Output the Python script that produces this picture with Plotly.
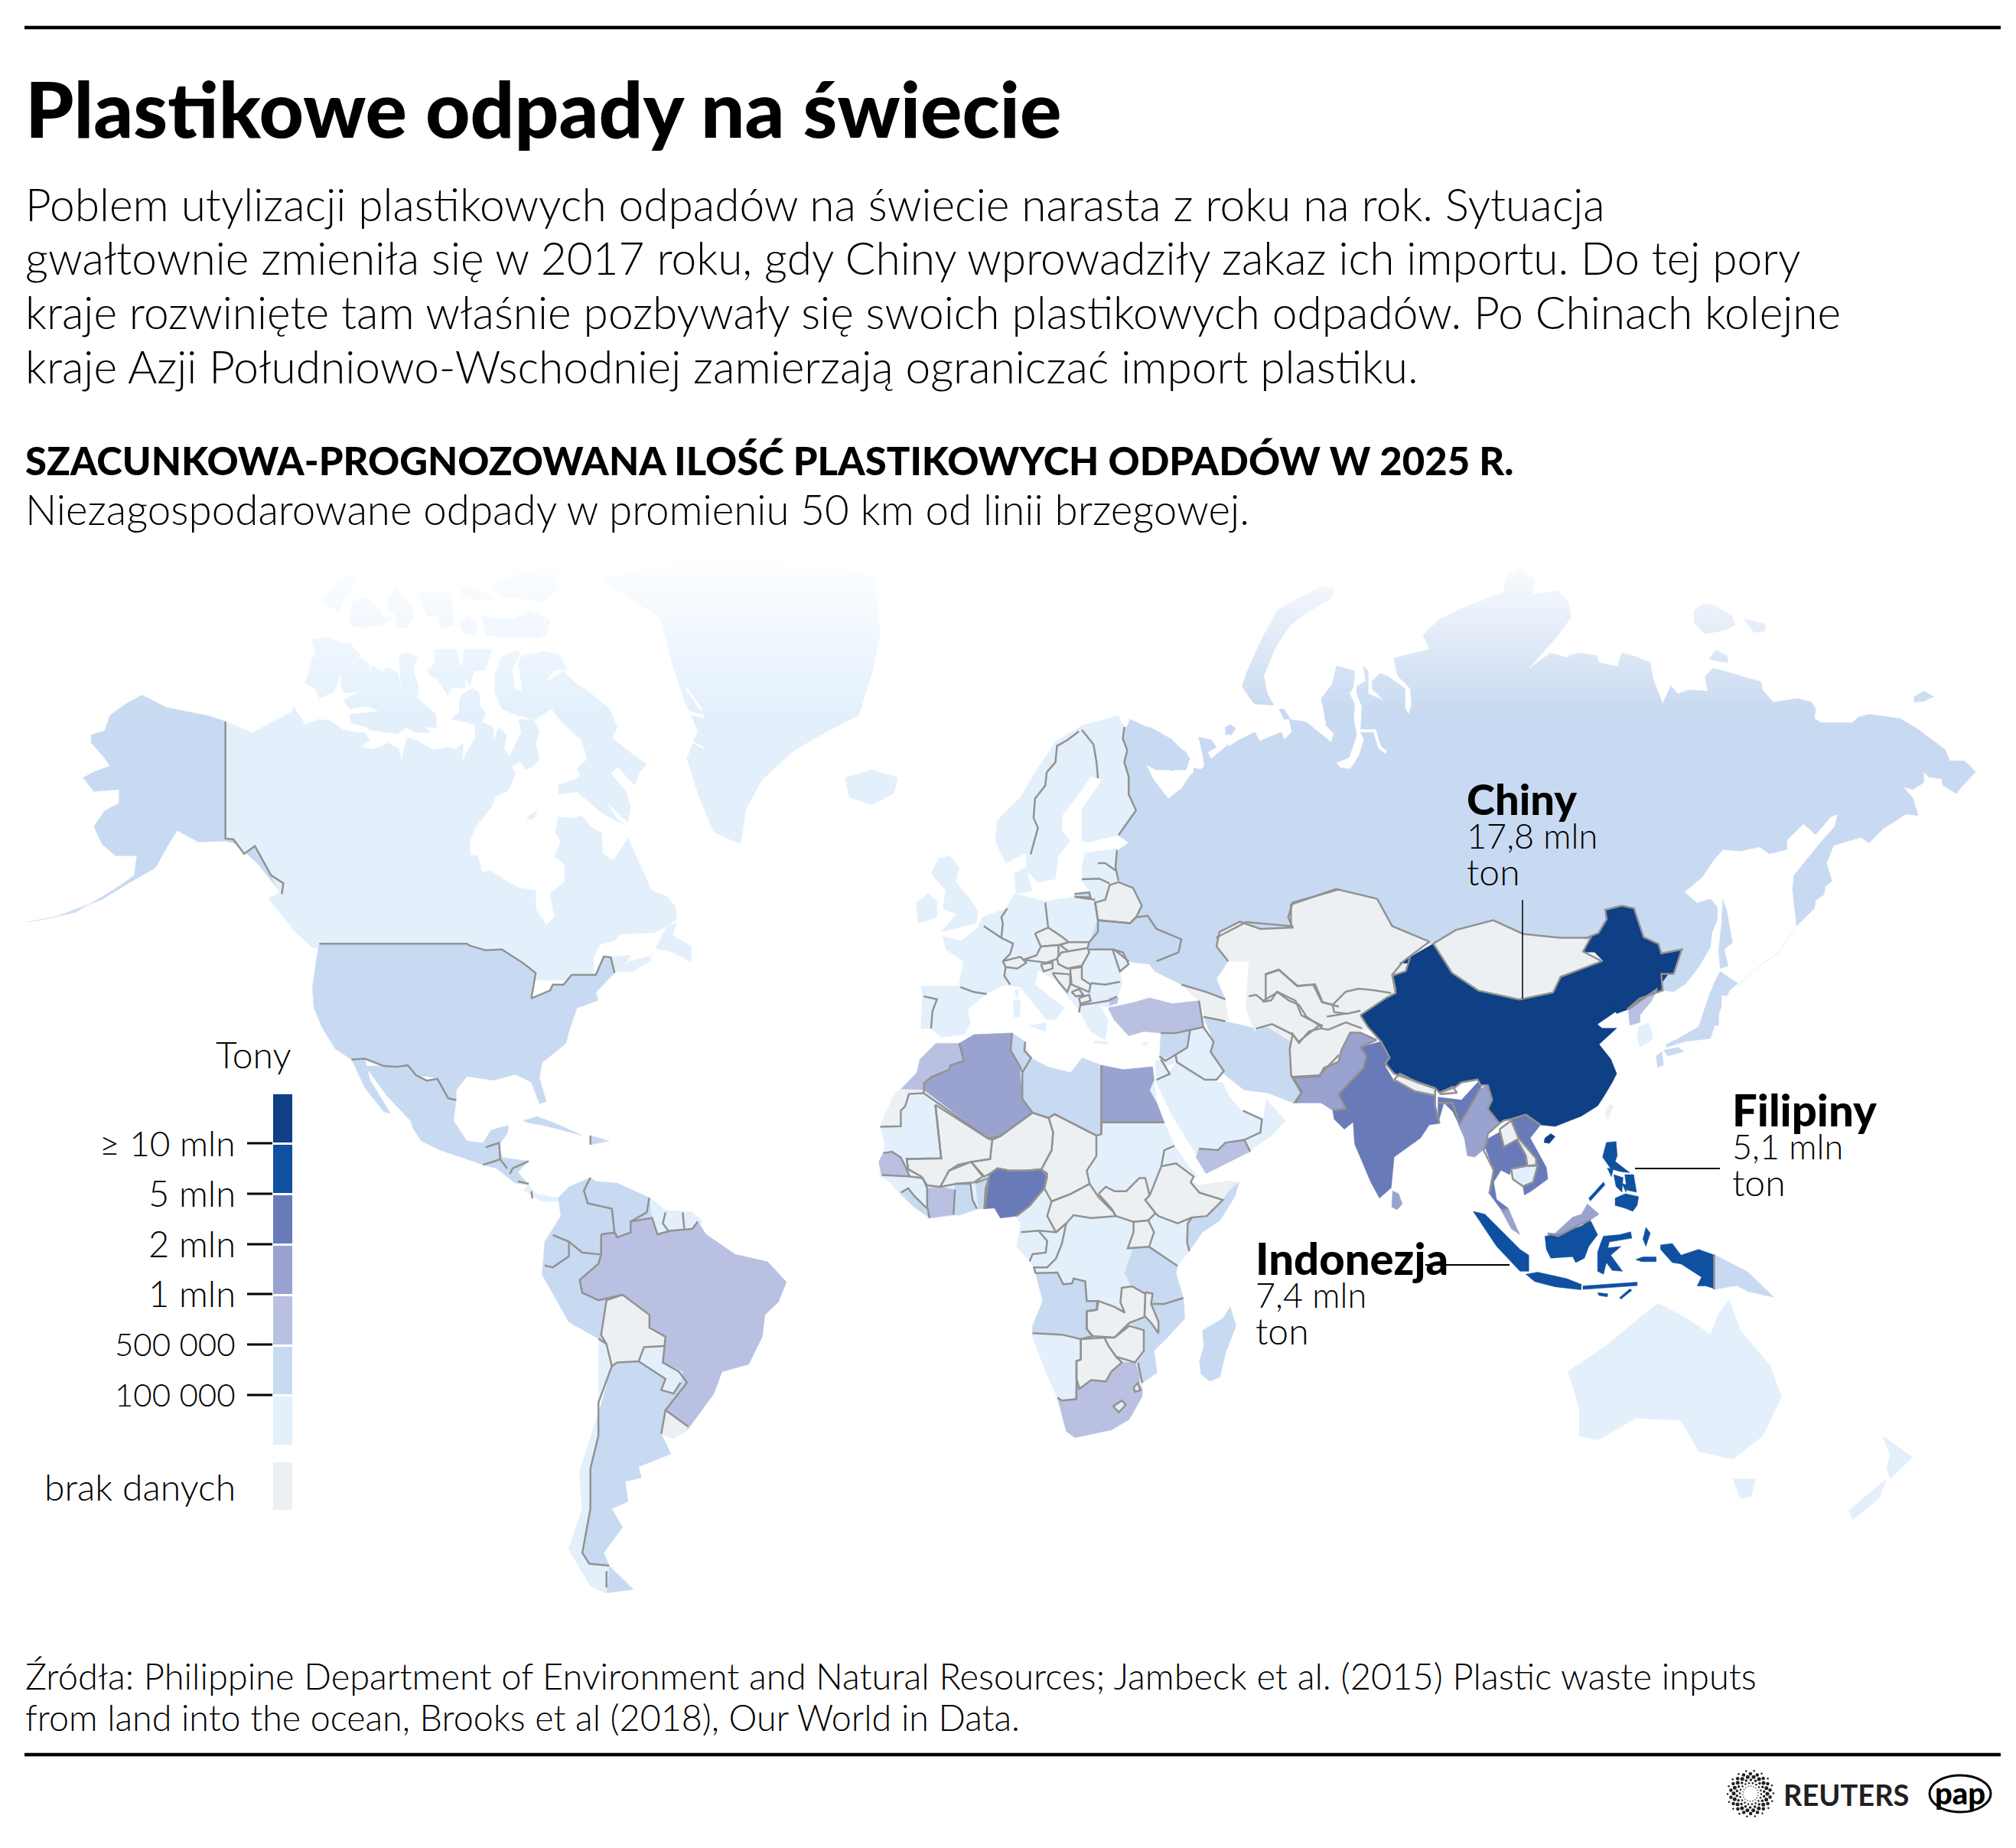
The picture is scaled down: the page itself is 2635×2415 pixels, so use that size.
import numpy as np
import plotly.graph_objects as go

# klasy kolorow (tony)
K1 = '#e3f0fc'
K2 = '#c8daf1'
K3 = '#b9c0e1'
K4 = '#9aa2cf'
K5 = '#687bb8'
K6 = '#0f50a0'
K7 = '#0f3f85'
BRAK = '#ecf0f3'
SZARY = '#929292'

legenda_kolory = [K7, K6, K5, K4, K3, K2, K1]
legenda_opisy = ['≥ 10 mln', '5 mln', '2 mln', '1 mln', '500 000', '100 000']

# kontury; mapy bazowej nie ma offline, wiec wszystko recznie.
# kadry = fragmenty obrazka: (x0, y0, skala x, skala y)
KADRY = {
    'na': (0, 700, 1.4255, 1.96),
    'az': (1100, 700, 1.0215, 1.96),
    'sa': (0, 1350, 1.4255, 2.0907),
    'pd': (1100, 1300, 1.0215, 1.96),
    'eu': (1150, 950, 2.6133, 2.6133),
    'af': (1120, 1350, 2.6133, 2.6133),
    'as': (1650, 1250, 2.6133, 2.6133),
    'ru': (1560, 720, 3, 3),
    'ws': (2050, 780, 2.8, 2.8),
    'kn': (380, 730, 2.904, 2.904),
}

# --- Ameryka Polnocna
alaska = [(420,476),(390,462),(310,440),(265,408),(235,430),(205,460),(195,500),(170,510),(170,530),(195,570),(205,590),(175,605),(155,620),(175,655),(222,650),(222,685),(195,705),(175,745),(190,790),(215,820),(255,820),(250,870),(225,895),(190,925),(140,965),(90,980),(50,990),(100,978),(190,932),(240,890),(290,850),(310,800),(330,755),(370,785),(420,782),(440,790),(480,840),(525,918),(528,890),(505,870),(475,795),(455,815),(435,778),(420,776)]
kanada_zach = [(420,476),(470,505),(545,450),(570,485),(600,600),(600,1045),(595,1045),(580,1050),(545,1005),(500,930),(520,915),(505,870),(475,795),(455,815),(435,778),(420,776)]
kanada = [(0,1400),(0,600),(10,560),(35,600),(55,630),(80,620),(105,610),(150,615),(200,650),(250,660),(280,660),(300,690),(265,715),(310,725),(370,700),(410,720),(420,770),(440,680),(480,690),(540,725),(600,715),(625,725),(655,700),(650,770),(670,730),(700,680),(700,630),(660,620),(610,610),(640,580),(640,530),(660,510),(690,490),(715,510),(720,560),(740,590),(725,620),(770,640),(770,690),(790,640),(820,670),(810,720),(830,750),(860,690),(875,660),(865,610),(920,610),(945,660),(930,700),(945,760),(920,790),(890,800),(870,770),(840,790),(855,815),(825,880),(780,900),(760,945),(700,1020),(680,1070),(680,1125),(710,1125),(725,1190),(760,1185),(820,1225),(870,1250),(930,1260),(930,1330),(970,1390),(1000,1360),(985,1270),(1040,1225),(1040,1160),(1000,1130),(1025,1075),(1005,1040),(1015,980),(1080,985),(1105,975),(1140,1020),(1180,1040),(1185,1120),(1225,1145),(1280,1060),(1320,1150),(1350,1220),(1370,1260),(1425,1280),(1460,1320),(1465,1370),(1420,1400),(1380,1420),(1250,1425),(1230,1450),(1175,1465),(1150,1510),(1150,1600),(110,1600),(110,1480),(80,1475)]
brunszwik = [(1215,1510),(1290,1505),(1270,1540),(1350,1520),(1380,1500),(1300,1568),(1225,1568)]
nowa_szkocja = [(1280,1530),(1360,1510),(1370,1525),(1290,1568)]
nowa_fundlandia = [(1385,1480),(1425,1400),(1465,1380),(1450,1430),(1520,1470),(1520,1530),(1440,1490)]
baffin = [(775,510),(775,440),(800,370),(860,348),(870,360),(840,420),(850,490),(880,510),(865,400),(875,370),(945,355),(955,350),(1020,365),(1050,420),(1000,425),(965,470),(1035,428),(1080,470),(1150,520),(1210,570),(1240,640),(1220,680),(1300,745),(1350,780),(1325,810),(1305,860),(1240,790),(1215,815),(1270,880),(1290,940),(1280,1000),(1245,970),(1195,920),(1240,990),(1275,1015),(1180,965),(1140,930),(1085,885),(1015,895),(1015,860),(1075,840),(1100,825),(1085,800),(1125,760),(1105,690),(1070,660),(1020,610),(990,570),(930,610),(860,595),(800,570),(785,530)]
wiktoria = [(205,535),(260,505),(205,510),(190,480),(190,430),(265,375),(295,395),(300,430),(310,405),(350,430),(345,450),(360,410),(405,430),(420,490),(410,370),(435,355),(480,370),(465,420),(485,490),(480,530),(550,590),(555,640),(510,640),(530,660),(470,660),(440,640),(405,665),(300,650),(290,640),(230,625),(225,590),(335,580),(295,560),(225,570),(205,545)]
banks = [(55,475),(75,400),(95,350),(75,310),(140,295),(190,320),(225,320),(265,370),(190,430),(165,505),(110,530),(90,490)]
ksiaze_walii = [(520,420),(545,400),(545,345),(630,345),(640,400),(665,430),(660,490),(610,490),(595,520),(560,460),(525,440)]
somerset = [(665,345),(765,345),(735,425),(695,425),(680,485),(650,420),(660,340)]
devon = [(725,220),(790,225),(850,230),(905,195),(985,235),(970,290),(940,300),(800,300),(740,290)]
ellesmere = [(770,110),(830,60),(940,45),(1010,40),(1020,110),(960,165),(860,150),(790,145)]
cornwallis = [(640,250),(675,215),(705,240),(705,290),(660,285)]
bathurst = [(630,100),(700,110),(780,150),(710,160),(660,150)]
melville = [(220,250),(235,165),(290,145),(340,195),(345,220),(395,220),(350,250),(290,260),(245,260)]
ksiaze_patryka = [(115,165),(185,70),(260,60),(215,140),(180,200)]
lougheed = [(365,160),(400,110),(460,185),(465,220),(440,265),(395,260),(400,215),(370,190)]
axel = [(480,130),(610,130),(620,250),(565,265),(560,220),(520,220)]
southampton = [(895,985),(935,955),(925,985),(900,990)]
grenlandia = [(1115,110),(1185,170),(1230,210),(1255,340),(1275,420),(1300,500),(1280,570),(1300,660),(1330,760),(1380,790),(1390,700),(1420,625),(1480,550),(1530,510),(1600,460),(1625,350),(1640,250),(1630,100),(1500,75),(1300,60)]
usa = [(595,1045),(870,1045),(875,1050),(905,1062),(935,1060),(975,1095),(998,1120),(990,1185),(1025,1165),(1030,1150),(1050,1150),(1065,1125),(1110,1125),(1125,1078),(1138,1080),(1145,1120),(1110,1170),(1115,1190),(1075,1210),(1060,1270),(1055,1300),(1010,1350),(1005,1390),(1018,1450),(1005,1455),(990,1400),(960,1380),(920,1395),(870,1385),(850,1420),(850,1445),(830,1437),(815,1390),(795,1385),(775,1385),(755,1355),(715,1360),(680,1340),(655,1342),(625,1315),(600,1260),(585,1210),(582,1160),(590,1080)]
gr_alaska = [(420,476),(420,776),(435,778),(455,815),(475,795),(505,870),(528,890),(525,918)]

# --- Ameryka Srodkowa i Poludniowa
meksyk = [(680,90),(715,90),(740,92),(760,88),(775,115),(795,130),(815,125),(835,178),(850,183),(845,240),(870,295),(900,300),(915,265),(948,252),(945,275),(930,305),(905,312),(900,360),(860,340),(820,320),(785,295),(770,262),(765,240),(720,170)]
baja = [(655,72),(680,72),(690,130),(728,220),(715,215),(680,150)]
gr_meksyk = [(655,72),(680,70),(715,90),(740,92),(760,88),(775,115),(795,130),(815,125),(835,178),(850,183)]
am_srodkowa = [(905,312),(930,300),(935,340),(985,350),(965,380),(985,415),(960,410),(925,370),(900,360)]
panama = [(985,415),(1000,440),(1040,450),(1045,460),(1010,460),(975,430)]
kuba = [(975,240),(1000,228),(1040,250),(1085,280),(1060,270),(1020,255),(985,245)]
haiti = [(1100,280),(1135,295),(1100,305)]
am_pd = [(1040,450),(1060,420),(1100,395),(1110,405),(1150,410),(1210,450),(1240,485),(1290,490),(1315,550),(1370,605),(1430,625),(1465,680),(1450,735),(1425,770),(1420,830),(1395,905),(1345,925),(1330,985),(1280,1085),(1255,1108),(1232,1095),(1250,1150),(1190,1185),(1195,1215),(1165,1225),(1170,1280),(1140,1300),(1160,1350),(1125,1420),(1135,1455),(1180,1520),(1130,1530),(1100,1510),(1060,1410),(1085,1300),(1080,1200),(1115,1040),(1140,910),(1115,835),(1060,790),(1010,660),(1015,570),(1045,500)]
gujany = [(1210,450),(1240,485),(1290,490),(1310,515),(1295,535),(1280,540),(1225,550),(1215,505)]
brazylia = [(1120,550),(1145,545),(1150,558),(1175,545),(1175,515),(1215,505),(1225,550),(1250,540),(1290,535),(1300,515),(1315,550),(1370,605),(1430,625),(1465,680),(1450,735),(1425,770),(1420,830),(1395,905),(1345,925),(1330,985),(1280,1085),(1240,1030),(1280,955),(1265,925),(1235,900),(1240,830),(1210,805),(1210,770),(1160,715),(1115,730),(1085,710),(1080,675),(1115,630),(1120,605)]
boliwia = [(1160,715),(1210,770),(1212,805),(1240,830),(1238,855),(1200,860),(1190,897),(1150,900),(1140,910),(1130,850),(1120,825),(1130,730)]
paragwaj = [(1200,858),(1238,855),(1235,900),(1272,925),(1268,955),(1255,985),(1232,975),(1240,945),(1190,897)]
urugwaj = [(1240,1030),(1282,1075),(1278,1090),(1255,1108),(1232,1095)]
chile = [(1115,835),(1130,850),(1140,910),(1130,950),(1115,1010),(1115,1100),(1100,1190),(1100,1300),(1085,1420),(1098,1450),(1135,1455),(1130,1530),(1100,1510),(1060,1410),(1085,1300),(1080,1200),(1115,1040)]
gr_am_pd = [
    [(1100,395),(1088,430),(1095,465),(1140,480),(1145,545),(1150,558)],
    [(1175,515),(1205,490),(1210,450)],
    [(1240,490),(1235,520),(1245,540)],
    [(1272,490),(1275,535)],
    [(1030,552),(1060,570),(1085,600),(1120,605)],
    [(1060,570),(1060,610),(1030,640),(1015,635)],
    [(1115,835),(1130,850),(1140,910),(1130,950),(1115,1010),(1115,1100),(1100,1190),(1100,1300),(1085,1420),(1098,1450),(1135,1455)],
    [(1130,1470),(1130,1515)],
    [(905,312),(930,300),(932,345)],
    [(900,360),(932,345),(945,370)],
    [(985,350),(955,370),(950,385)],
    [(965,405),(985,412)],
    [(990,432),(992,452)],
    [(1100,280),(1100,305)],
    [(1120,550),(1145,545),(1150,558),(1175,545),(1175,515),(1215,505),(1225,550),(1250,540),(1290,535),(1300,515)],
    [(1120,550),(1120,605),(1115,630),(1080,675),(1085,710),(1115,730),(1160,715)],
    [(1160,715),(1210,770),(1210,805),(1240,830),(1235,900),(1265,925),(1280,955),(1240,1030),(1282,1075)],
    [(1160,715),(1130,730),(1120,825),(1130,850)],
    [(1238,855),(1200,858),(1190,897),(1150,900),(1140,910)],
    [(1190,897),(1240,945),(1232,975),(1255,985),(1268,955)],
    [(1240,1030),(1232,1095)],
]

# --- Afryka
afryka = [(265,40),(350,35),(400,5),(530,0),(575,30),(590,85),(650,115),(730,135),(770,85),(835,110),(910,125),(1010,115),(1015,160),(1025,240),(1050,305),(1085,385),(1130,450),(1165,490),(1140,505),(1170,520),(1270,505),(1305,510),(1290,560),(1240,640),(1180,680),(1135,745),(1100,790),(1090,820),(1115,905),(1120,975),(1060,1040),(1015,1085),(1025,1160),(975,1195),(975,1240),(930,1320),(870,1355),(745,1382),(715,1360),(685,1245),(650,1170),(600,1040),(600,1000),(635,915),(610,810),(590,780),(545,730),(560,650),(540,625),(490,632),(470,598),(420,600),(350,622),(250,632),(190,590),(150,555),(115,510),(80,490),(75,440),(90,405),(95,380),(80,320),(100,270),(130,205),(150,190),(210,135)]
maroko = [(350,35),(365,95),(320,110),(315,125),(255,150),(230,170),(228,195),(150,192),(205,135),(215,90),(270,35)]
sahara_zach = [(150,192),(228,195),(228,205),(178,208),(165,250),(150,265),(150,318),(80,320),(100,270),(130,205)]
algieria = [(350,35),(400,5),(530,0),(525,60),(555,110),(565,225),(600,272),(490,352),(448,360),(230,195),(230,170),(255,150),(315,125),(320,110),(365,95)]
tunezja = [(530,0),(575,30),(572,60),(595,85),(565,135),(555,110),(525,60)]
libia = [(595,85),(650,115),(730,135),(770,85),(835,110),(835,345),(818,345),(675,277),(655,290),(600,272),(565,225),(565,135)]
egipt = [(835,110),(910,125),(1010,115),(1015,160),(1000,195),(975,150),(1025,240),(1050,305),(838,305)]
czad = [(675,277),(818,350),(818,420),(785,470),(795,515),(730,550),(665,575),(640,530),(650,480),(630,465),(665,400),(670,340),(655,290)]
niger = [(600,272),(655,290),(670,340),(665,400),(630,465),(580,470),(520,470),(480,462),(455,480),(435,490),(390,440),(455,430),(462,365),(490,352)]
mali = [(268,245),(448,360),(462,365),(455,430),(390,440),(345,450),(315,470),(285,525),(240,520),(220,490),(175,465),(170,430),(288,428)]
senegal = [(90,410),(120,405),(150,425),(170,465),(180,490),(85,485),(75,440)]
burkina = [(285,525),(315,470),(390,440),(430,490),(400,510),(340,515)]
wybrzeze_ks = [(240,530),(285,525),(335,535),(330,620),(250,632),(240,590)]
ghana = [(335,515),(388,515),(395,570),(410,600),(350,622),(330,620)]
benin = [(405,512),(450,495),(437,600),(415,600)]
liberia = [(150,545),(175,530),(195,555),(240,610),(248,632),(190,590)]
nigeria = [(455,480),(480,462),(520,470),(580,470),(630,465),(650,490),(640,530),(590,590),(545,625),(490,632),(470,598),(435,600),(440,530)]
rsa_srodkowa = [(665,575),(730,550),(795,515),(825,560),(875,610),(885,625),(800,632),(740,622),(715,650),(680,680),(650,625)]
sudan_pd = [(825,550),(850,525),(880,540),(920,540),(965,495),(985,495),(1000,555),(985,570),(1020,615),(995,640),(945,645),(885,625),(870,600)]
etiopia = [(1000,555),(1040,455),(1090,445),(1150,490),(1140,510),(1170,545),(1250,570),(1195,625),(1145,630),(1095,650),(1030,625),(1020,615),(985,570)]
somaliland = [(1140,510),(1170,520),(1270,505),(1270,540),(1250,570),(1170,545)]
somalia = [(1250,570),(1270,540),(1305,510),(1290,560),(1240,640),(1180,680),(1135,745),(1128,715),(1130,650),(1145,630),(1195,625)]
uganda = [(945,645),(995,640),(1015,680),(998,730),(925,735),(945,680)]
tanzania = [(945,730),(998,730),(1095,795),(1090,820),(1115,905),(1050,925),(1010,925),(985,885),(935,860),(915,820)]
mozambik = [(1115,905),(1120,975),(1060,1040),(1015,1085),(1025,1160),(975,1195),(960,1125),(980,1085),(975,1015),(930,990),(980,970),(1030,1025),(1030,985),(1005,925),(1050,925)]
malawi = [(985,885),(1010,890),(1005,925),(1030,985),(1030,1025),(1005,990),(982,965)]
zambia = [(785,950),(820,945),(825,915),(880,935),(915,955),(900,920),(905,870),(940,865),(985,890),(982,970),(930,990),(880,1040),(805,1035),(785,1010)]
zimbabwe = [(845,1040),(880,1040),(930,1000),(980,1015),(980,1085),(950,1125),(885,1105),(860,1070)]
botswana = [(765,1045),(845,1040),(860,1070),(885,1105),(905,1125),(870,1155),(850,1190),(800,1185),(760,1215),(750,1180),(750,1120),(765,1115)]
angola = [(610,820),(685,818),(705,858),(735,855),(740,838),(780,848),(785,915),(820,915),(820,945),(785,950),(785,1010),(805,1035),(765,1045),(700,1030),(600,1025),(600,1000),(635,915)]
rpa = [(750,1180),(760,1215),(800,1185),(850,1190),(870,1155),(905,1125),(950,1125),(965,1165),(965,1200),(975,1215),(975,1240),(930,1320),(870,1355),(745,1382),(715,1360),(685,1245),(700,1255),(745,1250)]
lesotho = [(875,1275),(905,1255),(918,1270),(895,1295)]
suazi = [(945,1210),(960,1195),(968,1220),(950,1225)]
madagaskar = [(1275,935),(1295,1000),(1260,1090),(1240,1175),(1205,1190),(1175,1165),(1170,1120),(1185,1070),(1180,1015),(1250,975)]
gr_afryka = [
    [(365,95),(320,110),(315,125),(255,150),(230,170),(228,205)],
    [(350,35),(365,95)],
    [(228,205),(178,208),(165,250),(150,265),(150,318),(80,320)],
    [(228,205),(448,360),(490,352),(600,272),(655,290),(675,277),(818,350),(835,345),(835,110)],
    [(530,0),(525,60),(555,110),(565,135),(565,225),(600,272)],
    [(565,135),(595,85),(572,60),(575,30)],
    [(838,305),(1050,305)],
    [(835,305),(835,345)],
    [(1085,385),(1050,400),(1040,455)],
    [(90,410),(120,405),(150,425),(170,465),(180,490),(85,485)],
    [(175,465),(170,430),(288,428),(268,245)],
    [(180,490),(225,495),(240,530),(240,590),(248,632)],
    [(150,545),(175,530),(195,555),(240,600)],
    [(335,535),(330,620)],
    [(335,515),(388,515),(395,570),(410,600)],
    [(405,512),(450,495),(437,600)],
    [(455,480),(480,462),(520,470),(580,470),(630,465),(650,490),(640,530),(590,590),(545,625)],
    [(455,480),(440,530),(435,600)],
    [(560,680),(620,675),(680,680)],
    [(620,675),(650,710),(645,750),(600,755),(590,780)],
    [(680,680),(715,650),(700,720),(680,770),(650,800),(605,800),(610,820)],
    [(610,820),(685,818),(705,858),(735,855),(740,838),(780,848),(785,915),(820,915),(820,945),(785,950),(785,1010),(805,1035),(765,1045),(700,1030),(600,1025)],
    [(1145,630),(1130,650),(1128,715),(1135,745)],
    [(998,730),(1095,795)],
    [(1010,925),(1050,925),(1115,905)],
    [(975,1195),(960,1125)],
    [(765,1045),(765,1115),(750,1120),(750,1250),(700,1255),(685,1245)],
]

# --- Europa i Bliski Wschod
skandynawia = [(690,-5),(815,-39),(835,0),(830,40),(845,80),(835,120),(850,170),(850,230),(875,285),(815,370),(750,385),(710,395),(690,390),(690,280),(760,180),(720,170),(690,215),(625,300),(620,350),(650,390),(610,440),(600,520),(540,530),(500,490),(500,430),(430,465),(395,390),(400,320),(480,240),(540,140),(600,50)]
europa = [(430,620),(460,570),(565,595),(660,580),(735,590),(745,660),(715,735),(800,760),(850,800),(820,840),(830,875),(810,925),(785,925),(800,965),(750,950),(780,1000),(770,1070),(720,1040),(675,960),(640,920),(610,870),(540,830),(530,880),(630,960),(600,1000),(570,1000),(480,890),(430,880),(365,910),(300,965),(310,1010),(290,1050),(210,1060),(175,1030),(140,1030),(145,915),(140,885),(270,885),(285,800),(225,760),(215,715),(280,730),(335,685),(350,650)]
dania = [(460,500),(500,480),(520,560),(465,570)]
baltyckie = [(700,430),(810,415),(805,480),(815,525),(785,540),(770,590),(735,595),(715,560),(690,525),(690,480)]
krolewiec = [(665,570),(715,565),(720,582),(665,580)]
brytania = [(240,440),(270,480),(260,530),(310,590),(335,630),(330,670),(210,700),(260,640),(215,620),(225,560),(175,500),(200,450)]
irlandia = [(125,600),(165,570),(195,595),(195,650),(130,670)]
islandia = [(5,620),(40,600),(75,620),(70,660),(40,690),(10,670)]
sycylia = [(510,1020),(570,1010),(565,1040)]
sardynia = [(455,935),(480,935),(478,990),(458,990)]
korsyka = [(460,900),(475,895),(470,930)]
kreta = [(730,1072),(780,1076),(778,1084),(732,1080)]
cypr = [(895,1080),(920,1075),(905,1090)]
bialorus = [(735,600),(770,590),(785,540),(815,530),(865,550),(895,610),(875,650),(855,670),(745,660),(740,630)]
ukraina = [(745,660),(855,670),(875,650),(915,645),(945,690),(1030,725),(1020,770),(945,800),(1000,800),(940,835),(920,810),(870,805),(850,800),(800,760),(715,760),(715,735)]
czechy = [(530,705),(575,685),(620,715),(645,735),(610,745),(550,750)]
slowacja = [(615,745),(645,735),(715,735),(710,755),(650,770)]
austria = [(490,795),(535,780),(550,750),(610,745),(610,790),(570,805),(530,800)]
wegry = [(605,790),(620,770),(710,755),(715,770),(690,815),(640,825),(610,810)]
slowenia = [(550,810),(590,805),(590,825),(560,835)]
bosnia = [(590,840),(650,845),(650,880),(640,905),(610,870)]
serbia = [(650,825),(690,820),(690,860),(720,880),(715,905),(680,890),(655,880)]
czarnogora = [(655,905),(680,895),(695,915),(670,920)]
macedonia = [(680,925),(715,915),(720,935),(685,945)]
moldawia = [(795,760),(830,770),(850,810),(820,835)]
szwajcaria = [(420,800),(480,785),(500,805),(470,825),(430,820)]
turcja = [(780,960),(870,940),(920,925),(1000,945),(1090,935),(1105,1025),(1010,1045),(960,1045),(900,1040),(850,1055),(800,1000)]
tracja = [(785,925),(815,925),(810,945),(785,950)]
kaukaz = [(1030,880),(1110,905),(1180,930),(1190,1000),(1110,990),(1095,940)]
arabia = [(940,1205),(990,1175),(1015,1145),(1110,1205),(1170,1215),(1195,1265),(1235,1310),(1310,1340),(1320,1270),(1385,1345),(1340,1395),(1260,1450),(1110,1525),(1080,1460),(1000,1330)]
jemen = [(1090,1440),(1155,1445),(1180,1420),(1245,1410),(1265,1450),(1115,1525),(1080,1470)]
syria = [(960,1045),(1060,1035),(1050,1095),(975,1140),(955,1125)]
irak = [(1060,1035),(1110,1030),(1140,1075),(1130,1110),(1175,1175),(1150,1205),(1110,1205),(1015,1145),(1010,1120),(1050,1095)]
iran = [(1105,990),(1180,1005),(1285,1030),(1340,1015),(1410,1050),(1400,1100),(1405,1190),(1440,1250),(1415,1285),(1325,1250),(1245,1240),(1180,1190),(1130,1110),(1140,1075)]
jordania = [(960,1135),(1010,1120),(1015,1145),(975,1160),(990,1185),(945,1205),(940,1140)]
kazachstan_zach = [(1150,750),(1160,700),(1230,665),(1300,690),(1410,685),(1395,650),(1410,600),(1568,555),(1568,1190),(1410,1190),(1400,1100),(1410,1050),(1340,1015),(1285,1030),(1280,1040),(1250,960),(1260,800),(1190,800)]
rosja_eur = [(835,0),(830,40),(845,80),(835,120),(850,170),(850,230),(875,285),(815,370),(850,395),(815,420),(805,480),(815,525),(865,550),(895,610),(875,650),(915,645),(945,690),(1030,725),(1020,770),(945,800),(1000,800),(940,835),(1030,880),(1115,905),(1180,930),(1150,860),(1190,800),(1150,750),(1160,700),(1230,665),(1300,690),(1410,685),(1395,650),(1410,600),(1568,555),(1568,200),(1200,200),(1190,60),(1130,110),(1090,35),(1110,135),(1060,165),(1030,210),(985,245),(935,180),(900,110),(1000,150),(1040,130),(1050,90),(960,20),(920,0)]
gr_europa = [
    [(680,15),(640,45),(605,65),(600,120),(570,155),(565,200),(530,245),(525,310),(540,345),(525,400),(515,435)],
    [(690,10),(730,60),(740,120),(745,175)],
    [(835,0),(830,40),(845,80),(835,120),(850,170),(850,230),(875,285),(815,370)],
    [(810,420),(805,480),(815,525)],
    [(745,465),(770,465),(805,490)],
    [(690,520),(750,518),(785,535)],
    [(665,570),(715,565),(720,582),(665,580),(735,590)],
    [(565,600),(575,685)],
    [(735,595),(745,660),(745,700),(715,735)],
    [(745,660),(855,670),(875,650),(915,645),(945,690),(1030,725),(1020,770),(945,800)],
    [(715,760),(800,760),(850,800)],
    [(355,680),(415,720),(420,670),(415,650),(435,620)],
    [(415,720),(455,740),(445,775),(420,800)],
    [(275,888),(320,905),(365,912)],
    [(150,920),(195,930),(180,970),(175,1030)],
    [(430,820),(425,850),(445,880)],
    [(720,875),(770,880),(820,870)],
    [(680,975),(685,950),(720,945),(780,935),(810,920)],
    [(1030,880),(1115,905),(1180,930)],
    [(1090,935),(1105,1025),(1010,1045),(960,1045)],
    [(1060,1035),(1050,1095),(975,1140),(955,1125)],
    [(1105,1025),(1140,1075),(1130,1110),(1175,1175),(1150,1205),(1110,1205),(1015,1145),(1010,1120)],
    [(960,1135),(975,1160),(990,1185),(945,1205)],
    [(1240,1310),(1305,1340),(1300,1385),(1245,1410),(1180,1420),(1155,1445),(1090,1440)],
    [(1245,1410),(1265,1450)],
    [(1105,990),(1180,1005)],
    [(1150,750),(1160,700),(1230,665),(1300,690),(1410,685),(1395,650),(1410,600),(1568,555)],
    [(1190,800),(1150,750)],
    [(1318,935),(1318,845),(1365,830),(1425,885),(1480,880),(1510,940),(1568,955)],
    [(1260,920),(1285,915),(1310,935),(1360,905),(1420,935),(1440,985),(1510,1020),(1505,1030)],
    [(1285,1030),(1340,1015),(1410,1050),(1400,1100),(1405,1190),(1440,1250),(1415,1285)],
    [(1410,1050),(1430,1075),(1500,1020)],
    [(1405,1195),(1500,1190),(1568,1120)],
]

# --- Rosja azjatycka, Chiny, Azja Pd.
rosja_srodek = [(0,850),(40,860),(45,800),(20,730),(70,740),(90,770),(55,790),(75,825),(110,810),(115,780),(180,740),(240,710),(260,745),(345,710),(355,740),(385,710),(375,660),(440,670),(540,750),(550,715),(515,680),(505,610),(500,580),(545,520),(560,450),(632,470),(628,530),(612,560),(632,600),(628,660),(640,720),(610,810),(560,830),(575,850),(615,855),(650,800),(668,740),(655,710),(660,610),(640,560),(640,530),(675,510),(665,450),(685,470),(685,560),(745,585),(700,540),(700,510),(730,480),(760,490),(830,540),(830,620),(845,640),(855,600),(850,540),(800,490),(785,420),(925,385),(900,330),(960,270),(1050,225),(1170,180),(1215,160),(1225,100),(1280,65),(1340,110),(1330,170),(1430,155),(1470,200),(1480,260),(1430,330),(1310,465),(1400,400),(1470,420),(1500,410),(1500,1540),(0,1540)]
rosja_wsch = [(0,215),(40,205),(105,215),(110,240),(180,255),(195,205),(250,220),(300,240),(310,300),(345,390),(375,325),(400,355),(440,340),(510,345),(500,290),(530,260),(650,295),(705,310),(710,340),(750,385),(840,372),(890,385),(905,410),(900,445),(925,460),(1040,460),(1060,440),(1100,430),(1215,445),(1280,485),(1380,560),(1395,600),(1450,600),(1490,640),(1435,700),(1420,720),(1370,690),(1365,665),(1320,660),(1300,640),(1300,680),(1260,705),(1225,695),(1260,735),(1280,800),(1235,795),(1150,850),(1100,900),(1070,880),(1020,895),(970,910),(945,975),(965,1040),(940,1060),(935,1090),(905,1110),(900,1140),(870,1170),(835,1205),(820,1070),(825,1020),(865,970),(930,890),(975,840),(985,795),(960,805),(905,870),(860,830),(800,890),(800,925),(735,940),(700,915),(630,930),(565,925),(530,965),(490,1025),(425,1080),(470,1120),(520,1105),(545,1135),(545,1180),(525,1230),(520,1280),(480,1350),(430,1415),(385,1445),(345,1440),(340,1380),(385,1380),(415,1290),(340,1305),(330,1270),(275,1245),(240,1140),(195,1130),(135,1145),(140,1180),(110,1230),(60,1250),(0,1240)]
nowa_ziemia = [(190,530),(215,460),(270,340),(330,230),(400,190),(500,140),(550,145),(540,185),(440,245),(380,290),(320,380),(275,490),(290,560),(315,605),(240,600),(215,570)]
wajgacz = [(335,620),(355,620),(380,660),(355,660)]
kolgujew = [(125,690),(145,680),(165,695),(150,720),(125,720)]
kola = [(375,520),(385,470),(440,520),(465,570),(460,600),(420,600),(390,570)]
sachalin = [(565,1105),(580,1150),(600,1265),(570,1290),(585,1350),(555,1360),(550,1290),(560,1200)]
nowosyberyjskie = [(460,50),(490,25),(530,30),(600,70),(610,105),(560,125),(500,135),(460,95)]
nowosyberyjskie_2 = [(640,80),(720,100),(720,125),(680,130)]
lachowskie = [(515,225),(540,195),(580,215),(585,240),(545,235)]
wrangla = [(1265,365),(1300,345),(1338,365),(1300,382),(1265,385)]
hokkaido = [(555,1370),(620,1415),(590,1440),(580,1460),(520,1450),(530,1420)]
honsiu_pn = [(520,1480),(550,1480),(550,1568),(490,1568)]
kazachstan_wsch = [(600,945),(660,905),(715,930),(735,1000),(785,1040),(750,1090),(745,1095),(600,1095)]
mongolia = [(790,1045),(820,1010),(870,985),(910,1020),(960,1030),(1000,1030),(990,1065),(1015,1090),(960,1130),(950,1170),(905,1188),(850,1165),(815,1120)]
chiny_pn_zach = [(790,1045),(815,1095),(745,1095)]
chiny_pn_wsch = [(45,1300),(60,1250),(110,1230),(140,1180),(135,1145),(195,1130),(240,1140),(275,1245),(330,1270),(340,1305),(415,1290),(385,1380),(340,1380),(345,1440),(260,1470),(215,1510),(170,1520),(100,1568),(0,1568),(0,1390),(60,1350),(130,1335),(95,1300)]
gr_kazachstan = [(500,1030),(540,990),(600,1000),(600,945),(660,905),(715,930),(735,1000),(785,1040)]
gr_kazachstan_chiny = [(785,1040),(750,1090),(735,1125),(740,1165)]
gr_chiny_pn = [(60,1250),(110,1230),(140,1180),(135,1145),(195,1130),(240,1140),(275,1245),(330,1270),(340,1305),(415,1290),(385,1380),(340,1380),(345,1440),(260,1470),(215,1510)]
azja_srodkowa = [(0,0),(500,0),(490,50),(445,65),(455,125),(425,140),(335,200),(360,250),(300,260),(270,320),(260,360),(210,380),(195,410),(105,415),(95,350),(105,295),(0,230)]
chiny = [(335,200),(360,240),(405,290),(435,345),(420,365),(450,400),(590,450),(605,465),(660,445),(680,430),(735,420),(745,440),(770,440),(785,490),(770,520),(810,570),(825,560),(850,555),(900,540),(950,575),(1000,580),(1090,545),(1145,510),(1165,480),(1195,430),(1210,400),(1190,350),(1150,300),(1210,245),(1160,245),(1125,215),(1195,165),(1210,195),(1250,180),(1350,110),(1400,40),(1420,0),(1165,0),(1165,15),(1100,40),(1020,65),(1000,115),(885,145),(830,125),(740,120),(720,85),(640,50),(630,0),(505,0),(490,50),(445,65),(455,125),(425,140)]
hainan = [(965,620),(985,605),(1000,615),(980,638),(962,635)]
tajwan = [(1185,505),(1200,510),(1180,555),(1170,535)]
korea_pn = [(1250,180),(1350,110),(1330,150),(1290,200),(1290,225),(1255,235)]
korea_pd = [(1285,240),(1320,225),(1335,280),(1290,310),(1280,280)]
honsiu = [(1380,310),(1445,290),(1530,280),(1568,170),(1568,100),(1530,120),(1490,240),(1420,280),(1380,300)]
kiusiu = [(1345,340),(1365,325),(1370,370),(1350,380)]
sikoku = [(1370,320),(1420,310),(1440,325),(1385,340)]
indie = [(260,470),(345,380),(355,340),(335,310),(405,290),(435,345),(420,375),(450,425),(590,475),(590,510),(605,570),(570,575),(540,620),(450,685),(440,790),(400,825),(370,770),(315,640),(310,565),(280,590),(245,555),(240,525),(285,520)]
indie_wsch = [(600,480),(680,490),(735,430),(750,440),(700,530),(670,570),(650,530),(620,500),(600,570)]
nepal = [(450,420),(470,400),(530,430),(590,450),(590,475),(520,460)]
bhutan = [(605,465),(650,445),(665,465),(610,470)]
pakistan = [(105,415),(195,410),(210,380),(260,360),(270,320),(300,260),(335,260),(390,285),(335,310),(355,340),(345,380),(260,470),(285,520),(240,525),(200,500),(115,500),(135,460)]
birma = [(770,440),(785,490),(770,520),(810,570),(770,605),(765,640),(755,660),(725,685),(700,680),(690,620),(670,575),(700,530),(745,450)]
tajlandia = [(765,625),(810,600),(825,650),(870,625),(905,680),(905,715),(850,725),(845,745),(815,730),(790,770),(800,830),(840,860),(820,870),(775,810),(790,730),(760,650)]
laos = [(810,590),(850,560),(875,620),(935,690),(935,712),(905,715),(900,680),(870,625),(825,650)]
wietnam = [(850,555),(900,540),(950,575),(915,620),(970,720),(975,760),(920,800),(895,815),(890,785),(925,770),(940,715),(935,690),(875,620)]
kambodza = [(850,725),(905,715),(940,715),(925,770),(890,785),(855,760)]
sri_lanka = [(445,800),(465,810),(478,845),(460,865),(442,855)]
malezja_pw = [(815,865),(840,860),(870,930),(880,950),(850,930)]
malezja_bo = [(975,945),(1000,945),(1060,890),(1090,880),(1110,845),(1150,880),(1120,900),(1085,915),(1010,955),(975,960)]
gr_azja_pd = [
    [(335,200),(360,240),(405,290),(435,345),(420,365),(450,400),(590,450),(605,465),(660,445),(680,430),(735,420),(745,440),(770,440),(785,490),(770,520),(810,570),(825,560),(850,555),(900,540),(950,575)],
    [(1250,180),(1350,110)],
    [(335,200),(425,140),(455,125),(445,65),(490,50),(505,0)],
    [(105,415),(195,410),(210,380),(260,360),(270,320),(300,260),(335,260),(390,285)],
    [(390,285),(335,310),(355,340),(345,380),(260,470),(285,520),(240,525)],
    [(105,415),(135,460),(115,500)],
    [(590,475),(590,510),(605,570)],
    [(600,500),(650,500),(670,560)],
    [(670,575),(700,530),(745,450)],
    [(810,570),(770,605),(765,640),(755,660),(790,730),(775,810)],
    [(850,725),(905,715),(940,715),(925,770),(890,785),(855,760),(850,725)],
    [(820,870),(840,860)],
    [(975,945),(1010,955),(1085,915),(1120,900)],
    [(240,165),(245,190),(290,195),(335,185)],
    [(220,205),(285,195)],
    [(10,60),(55,45),(120,100),(180,95),(205,155),(240,165),(285,120),(330,110),(380,115),(440,125)],
    [(0,155),(30,150),(50,120),(90,150),(125,165),(150,205),(200,240)],
    [(100,260),(125,295),(160,255),(200,245),(225,250),(285,225),(340,245)],
]

# --- Indonezja, Filipiny, Oceania
sumatra = [(720,870),(760,880),(830,950),(880,1000),(910,1020),(910,1075),(880,1075),(800,990)]
jawa = [(900,1085),(940,1078),(1040,1100),(1090,1120),(1088,1138),(1000,1128),(930,1110)]
sundy = [(1095,1125),(1280,1112),(1280,1124),(1095,1137)]
sumba = [(1145,1148),(1180,1152),(1178,1162),(1150,1158)]
timor = [(1220,1165),(1255,1135),(1262,1140),(1225,1170)]
borneo = [(965,955),(1010,950),(1090,920),(1120,900),(1145,950),(1115,990),(1100,1030),(1070,1045),(1060,1025),(985,1030),(970,1000)]
sulawesi = [(1165,955),(1220,950),(1258,940),(1262,962),(1185,975),(1180,995),(1225,990),(1190,1020),(1230,1075),(1195,1072),(1175,1045),(1165,1085),(1145,1075),(1145,1010),(1155,980)]
halmahera = [(1310,925),(1325,945),(1310,990),(1300,965)]
moluki = [(1275,1035),(1300,1026),(1345,1026),(1345,1042),(1295,1042)]
papua = [(1360,985),(1400,980),(1430,1020),(1490,1000),(1545,1020),(1545,1135),(1515,1125),(1485,1125),(1500,1095),(1430,1050),(1400,1045),(1360,1000)]
luzon = [(1175,635),(1208,632),(1212,680),(1205,700),(1255,738),(1225,735),(1190,725),(1162,685)]
mindanao = [(1205,825),(1240,810),(1285,820),(1280,850),(1265,870),(1240,860),(1205,850)]
visayas_1 = [(1200,745),(1232,755),(1228,805),(1208,785)]
visayas_2 = [(1238,745),(1268,745),(1278,805),(1245,798)]
visayas_3 = [(1228,775),(1245,780),(1242,805)]
mindoro = [(1178,722),(1198,728),(1192,752)]
palawan = [(1115,825),(1165,770),(1170,780),(1120,835)]
png = [(1165,665),(1210,710),(1245,775),(1210,760),(1195,745),(1165,755)]
gr_png = [(1165,665),(1165,755)]
australia = [(1185,780),(1200,860),(1240,950),(1255,1030),(1230,1130),(1190,1190),(1145,1170),(1120,1090),(1060,1085),(1010,1140),(985,1130),(985,1060),(970,965),(1020,900),(1070,820),(1090,790),(1130,830),(1160,870),(1170,820)]
tasmania = [(1190,1240),(1220,1240),(1215,1285),(1200,1290)]
nz_pn = [(1390,1130),(1430,1185),(1400,1240),(1395,1210),(1400,1180)]
nz_pd = [(1395,1240),(1385,1290),(1350,1345),(1345,1320)]

# waskie zatoki i lancuchy wysp: (kadr, punkty, kolor, grubosc)
linie_cienkie = [
    ('ru', [(655,705),(710,705),(730,770),(755,790)], 'white', 4),
    ('ru', [(500,600),(515,680)], 'white', 3),
    ('ws', [(620,1420),(700,1350),(770,1300),(830,1210)], K1, 1),
    ('kn', [(1500,490),(1560,575)], 'white', 3),
    ('kn', [(1475,575),(1568,600)], 'white', 4),
    ('kn', [(1500,680),(1568,720)], 'white', 2),
]

# kolejnosc = kolejnosc rysowania
kraje = [
    ('na', alaska, K2), ('na', kanada_zach, K1), ('kn', kanada, K1), ('kn', brunszwik, K1), ('kn', nowa_szkocja, K1), ('kn', nowa_fundlandia, K1),
    ('kn', baffin, K1), ('kn', wiktoria, K1), ('kn', banks, K1), ('kn', ksiaze_walii, K1), ('kn', somerset, K1), ('kn', devon, K1), ('kn', ellesmere, K1),
    ('kn', cornwallis, K1), ('kn', bathurst, K1), ('kn', melville, K1), ('kn', ksiaze_patryka, K1), ('kn', lougheed, K1), ('kn', axel, K1), ('kn', southampton, K1),
    ('na', grenlandia, K1), ('na', usa, K2),
    ('sa', meksyk, K2), ('sa', baja, K2), ('sa', am_srodkowa, K2), ('sa', panama, K1), ('sa', kuba, K2), ('sa', haiti, K2),
    ('sa', am_pd, K2), ('sa', chile, K1), ('sa', gujany, K1), ('sa', brazylia, K3), ('sa', boliwia, BRAK), ('sa', paragwaj, K1), ('sa', urugwaj, BRAK),
    ('af', afryka, K1), ('af', maroko, K3), ('af', sahara_zach, BRAK), ('af', algieria, K4), ('af', tunezja, K2), ('af', libia, K2), ('af', egipt, K4),
    ('af', senegal, K3), ('af', wybrzeze_ks, K3), ('af', ghana, K2), ('af', benin, K2), ('af', liberia, K2), ('af', nigeria, K5),
    ('af', somaliland, BRAK), ('af', somalia, K2), ('af', tanzania, K2), ('af', mozambik, K2), ('af', angola, K2), ('af', rpa, K3), ('af', madagaskar, K2),
    ('eu', skandynawia, K1), ('eu', europa, K1), ('eu', dania, K1), ('eu', baltyckie, K1), ('eu', krolewiec, K2), ('eu', brytania, K1), ('eu', irlandia, K1),
    ('eu', sycylia, K1), ('eu', sardynia, K1), ('eu', korsyka, K1), ('eu', kreta, K1), ('eu', cypr, BRAK), ('az', islandia, K1),
    ('eu', ukraina, K2), ('eu', rosja_eur, K2), ('ru', rosja_srodek, K2), ('ws', rosja_wsch, K2), ('az', kola, K2), ('ru', nowa_ziemia, K2), ('ru', wajgacz, K2), ('ru', kolgujew, K2),
    ('ws', sachalin, K2), ('ws', nowosyberyjskie, K2), ('ws', nowosyberyjskie_2, K2), ('ws', lachowskie, K2), ('ws', wrangla, K2), ('ws', hokkaido, K2), ('ws', honsiu_pn, K2),
    ('eu', turcja, K3), ('eu', tracja, K3), ('eu', kaukaz, BRAK), ('eu', arabia, K1), ('eu', jemen, K3), ('eu', syria, K2), ('eu', irak, K1), ('eu', iran, K2), ('eu', jordania, K1),
    ('eu', kazachstan_zach, BRAK), ('az', kazachstan_wsch, BRAK), ('as', azja_srodkowa, BRAK),
    ('az', chiny_pn_zach, K7), ('ws', chiny_pn_wsch, K7), ('as', chiny, K7), ('as', hainan, K7), ('as', tajwan, BRAK),
    ('as', korea_pn, K3), ('as', korea_pd, K1), ('as', honsiu, K2), ('as', kiusiu, K2), ('as', sikoku, K2),
    ('as', indie, K5), ('as', indie_wsch, K5), ('as', pakistan, K4), ('as', birma, K4), ('as', tajlandia, K5), ('as', wietnam, K5), ('as', kambodza, K1),
    ('as', sri_lanka, K4), ('as', malezja_pw, K4), ('as', malezja_bo, K4),
    ('as', sumatra, K6), ('as', jawa, K6), ('as', sundy, K6), ('as', sumba, K6), ('as', timor, K6), ('as', borneo, K6), ('as', sulawesi, K6),
    ('as', halmahera, K6), ('as', moluki, K6), ('as', papua, K6), ('as', luzon, K6), ('as', mindanao, K6), ('as', visayas_1, K6), ('as', visayas_2, K6), ('as', visayas_3, K6), ('as', mindoro, K6), ('as', palawan, K6),
    ('pd', png, K2), ('pd', australia, K1), ('pd', tasmania, K1), ('pd', nz_pn, K1), ('pd', nz_pd, K1),
]

# kraje bez wybrzeza - obrys dookola
kraje_obrys = [
    ('af', czad, BRAK), ('af', niger, BRAK), ('af', mali, BRAK), ('af', burkina, BRAK), ('af', rsa_srodkowa, BRAK), ('af', sudan_pd, BRAK), ('af', etiopia, BRAK), ('af', uganda, BRAK),
    ('af', malawi, BRAK), ('af', zambia, BRAK), ('af', zimbabwe, BRAK), ('af', botswana, BRAK), ('af', lesotho, K1), ('af', suazi, K1),
    ('eu', bialorus, BRAK), ('eu', czechy, BRAK), ('eu', slowacja, BRAK), ('eu', austria, BRAK), ('eu', wegry, BRAK), ('eu', slowenia, BRAK), ('eu', bosnia, BRAK), ('eu', serbia, BRAK),
    ('eu', czarnogora, BRAK), ('eu', macedonia, BRAK), ('eu', moldawia, K1), ('eu', szwajcaria, BRAK),
    ('az', mongolia, BRAK), ('as', nepal, BRAK), ('as', bhutan, BRAK), ('as', laos, BRAK),
]

granice = [('na', usa[:16]), ('na', gr_alaska), ('sa', gr_meksyk), ('pd', gr_png),
           ('az', gr_kazachstan), ('az', gr_kazachstan_chiny), ('ws', gr_chiny_pn)]
granice += [('sa', g) for g in gr_am_pd]
granice += [('af', g) for g in gr_afryka]
granice += [('eu', g) for g in gr_europa]
granice += [('as', g) for g in gr_azja_pd]

# legenda (pozycje w pikselach obrazka)
leg_gora = [1430, 1496, 1562, 1628, 1694, 1760, 1825]
leg_dol = [1493, 1559, 1625, 1691, 1757, 1822, 1888]
leg_kreski = [1494, 1560, 1626, 1691, 1757, 1823]
leg_rozmiary = [46, 47, 47, 47, 42, 42]


def kadr(nazwa, pts):
    x0, y0, sx, sy = KADRY[nazwa]
    return [x0 + p[0] / sx for p in pts], [y0 + p[1] / sy for p in pts]


fig = go.Figure()

for nazwa, pts, kolor in kraje:
    x, y = kadr(nazwa, pts + pts[:1])
    fig.add_trace(go.Scatter(x=x, y=y, mode='lines', fill='toself', fillcolor=kolor,
                             line=dict(color=kolor, width=0.5), hoverinfo='skip', showlegend=False))

for nazwa, pts, kolor, w in linie_cienkie:
    x, y = kadr(nazwa, pts)
    fig.add_trace(go.Scatter(x=x, y=y, mode='lines', line=dict(color=kolor, width=w),
                             hoverinfo='skip', showlegend=False))

for nazwa, pts, kolor in kraje_obrys:
    x, y = kadr(nazwa, pts + pts[:1])
    fig.add_trace(go.Scatter(x=x, y=y, mode='lines', fill='toself', fillcolor=kolor,
                             line=dict(color=SZARY, width=2.5), hoverinfo='skip', showlegend=False))

for nazwa, pts in granice:
    x, y = kadr(nazwa, pts)
    fig.add_trace(go.Scatter(x=x, y=y, mode='lines', line=dict(color=SZARY, width=2.5),
                             hoverinfo='skip', showlegend=False))

# zanik mapy na polnocy
for y in range(715, 930, 5):
    fig.add_shape(type='rect', x0=0, x1=2635, y0=y, y1=y + 5, line_width=0,
                  fillcolor='white', opacity=1 - (y - 715) / 215)

# linie poziome i odnosniki
for x0, x1, y0, y1, w in [(32, 2615, 36, 36, 4.5), (32, 2615, 2293, 2293, 4.5),
                          (1990, 1990, 1176, 1305, 1.5), (2137, 2248, 1527, 1527, 2), (1863, 1973, 1653, 1653, 2)]:
    fig.add_shape(type='line', x0=x0, x1=x1, y0=y0, y1=y1, line=dict(color='black', width=w))

# legenda
for g, d, kolor in zip(leg_gora, leg_dol, legenda_kolory):
    fig.add_shape(type='rect', x0=357, x1=382, y0=g, y1=d, line_width=0, fillcolor=kolor)
fig.add_shape(type='rect', x0=357, x1=382, y0=1911, y1=1973, line_width=0, fillcolor=BRAK)
for y in leg_kreski:
    fig.add_shape(type='line', x0=323, x1=356, y0=y, y1=y, line=dict(color='black', width=3))

CZCIONKA = 'Lato'


def tekst(x, y, s, size, weight=300, anchor='left', family=CZCIONKA, kolor='black'):
    fig.add_annotation(x=x, y=y, text=s, showarrow=False, xanchor=anchor, yanchor='middle',
                       align=anchor, borderpad=0,
                       font=dict(family=family, size=size, color=kolor, weight=weight))


tekst(32, 141, 'Plastikowe odpady na świecie', 101.5, 900)
for y, s in [(266, 'Poblem utylizacji plastikowych odpadów na świecie narasta z roku na rok. Sytuacja'),
             (336, 'gwałtownie zmieniła się w 2017 roku, gdy Chiny wprowadziły zakaz ich importu. Do tej pory'),
             (407, 'kraje rozwinięte tam właśnie pozbywały się swoich plastikowych odpadów. Po Chinach kolejne'),
             (478, 'kraje Azji Południowo-Wschodniej zamierzają ograniczać import plastiku.')]:
    tekst(32, y, s, 58.6)
tekst(32, 601, 'SZACUNKOWA-PROGNOZOWANA ILOŚĆ PLASTIKOWYCH ODPADÓW W 2025 R.', 50.8, 900)
tekst(32, 665, 'Niezagospodarowane odpady w promieniu 50 km od linii brzegowej.', 54.7)
tekst(32, 2190, 'Źródła: Philippine Department of Environment and Natural Resources; Jambeck et al. (2015) Plastic waste inputs', 47)
tekst(32, 2244, 'from land into the ocean, Brooks et al (2018), Our World in Data.', 46.6)

tekst(382, 1377, 'Tony', 48, anchor='right')
for y, s, r in zip(leg_kreski, legenda_opisy, leg_rozmiary):
    tekst(309, y - 1, s, r, anchor='right')
tekst(309, 1942, 'brak danych', 48, anchor='right')

for x, y, nazwa, ile, r in [(1916, 1043, 'Chiny', '17,8 mln', 56), (2263, 1449, 'Filipiny', '5,1 mln', 58), (1640, 1643, 'Indonezja', '7,4 mln', 58)]:
    tekst(x, y, nazwa, r, 900)
    tekst(x, y + 49, ile, 45)
    tekst(x, y + 95, 'ton', 48)

# logo Reuters - pierscienie kropek
for r, n, s in [(10, 18, 1.5), (14, 18, 2.5), (18, 18, 3.5), (22, 18, 5), (26, 18, 4.5), (30, 18, 2.5)]:
    kat = np.linspace(0, 2 * np.pi, n, endpoint=False) + r
    fig.add_trace(go.Scatter(x=2288 + r * np.cos(kat), y=2344 + r * np.sin(kat), mode='markers',
                             marker=dict(size=s, color='#231f20'), hoverinfo='skip', showlegend=False))
tekst(2330, 2345, 'REUTERS', 38, 700, kolor='#231f20')
fig.add_shape(type='circle', x0=2522, x1=2602, y0=2320, y1=2368, line=dict(color='black', width=3))
tekst(2562, 2343, 'pap', 40, 900, anchor='center')

fig.update_layout(width=2635, height=2415, margin=dict(l=0, r=0, t=0, b=0),
                  paper_bgcolor='white', plot_bgcolor='white', showlegend=False,
                  xaxis=dict(range=[0, 2635], visible=False, fixedrange=True),
                  yaxis=dict(range=[2415, 0], visible=False, fixedrange=True))

fig.write_html("out.html", config={'displayModeBar': False}, post_script="document.body.style.margin='0';")
